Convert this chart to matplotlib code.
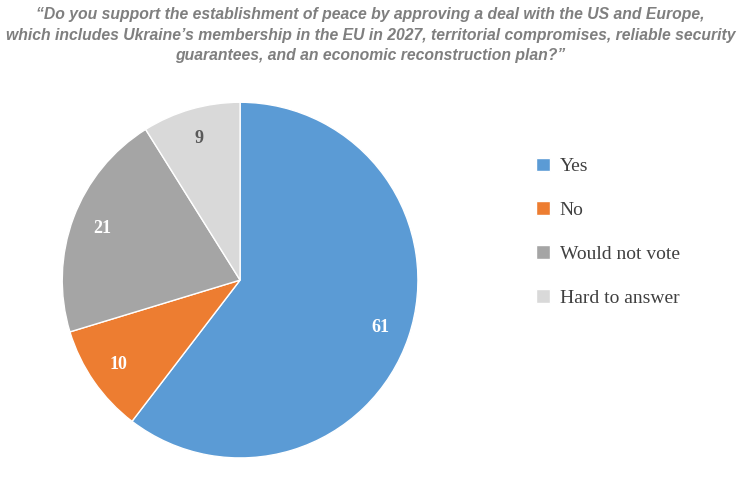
import matplotlib
matplotlib.use("Agg")
import matplotlib.pyplot as plt

categories = ["Yes", "No", "Would not vote", "Hard to answer"]
values = [61, 10, 21, 9]
colors = ["#5b9bd5", "#ed7d31", "#a5a5a5", "#d9d9d9"]
label_colors = ["white", "white", "white", "#595959"]

fig = plt.figure(figsize=(7.41, 4.94), dpi=100)
ax = fig.add_axes([0.324 - 0.24, 0.433 - 0.36, 0.48, 0.72])
wedges, texts, autotexts = ax.pie(values, colors=colors, startangle=90, counterclock=False,
                                  autopct=lambda p: "", pctdistance=0.83,
                                  wedgeprops=dict(edgecolor="white", linewidth=1))
for t, v, c in zip(autotexts, values, label_colors):
    t.set_text(str(v))
    t.set_color(c)
    t.set_fontfamily("Liberation Serif")
    t.set_fontweight("bold")
    t.set_fontsize(13)
ax.set_aspect("equal")
ax.set_xlim(-1.0, 1.0)
ax.set_ylim(-1.0, 1.0)

fig.text(0.5, 0.985,
         "\u201cDo you support the establishment of peace by approving a deal with the US and Europe,\n"
         "which includes Ukraine\u2019s membership in the EU in 2027, territorial compromises, reliable security\n"
         "guarantees, and an economic reconstruction plan?\u201d",
         ha="center", va="top", fontsize=11.3, fontweight="bold", style="italic",
         color="#7f7f7f", family="Liberation Sans", linespacing=1.45)

leg = fig.legend(wedges, categories, loc="center left", bbox_to_anchor=(0.7, 0.53),
                 frameon=False, prop={"family": "Liberation Serif", "size": 14},
                 handlelength=0.7, handleheight=0.7, labelspacing=1.35, handletextpad=0.5,
                 labelcolor="#404040")
fig.savefig("out.png", dpi=100)
